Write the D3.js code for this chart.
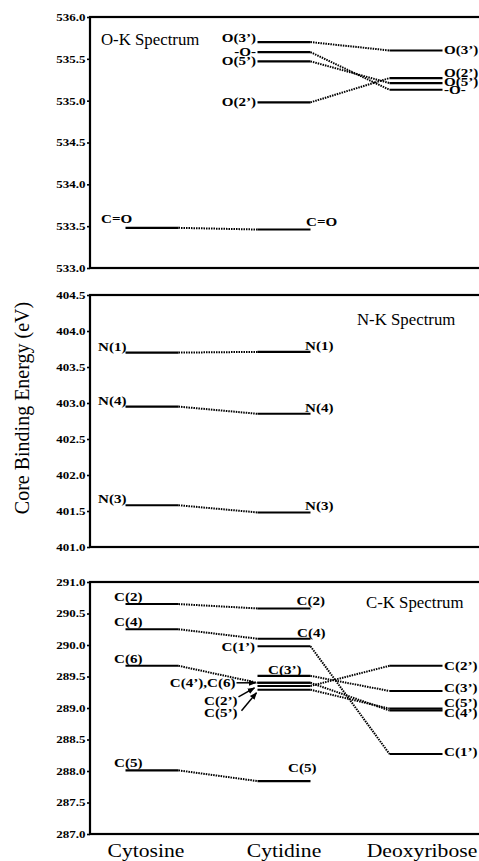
<!DOCTYPE html>
<html>
<head>
<meta charset="utf-8">
<script src="https://cdn.jsdelivr.net/npm/d3@7"></script>
<style>
  html, body { margin: 0; padding: 0; background: #fff; }
  svg { display: block; }
  text { font-family: "Liberation Serif", "Times New Roman", Times, "DejaVu Serif", serif; fill: #000; }
</style>
</head>
<body>
<svg id="chart" width="479" height="861"></svg>
<script>
const categories = ["Cytosine", "Cytidine", "Deoxyribose"];

// O-K spectrum (eV)
const oLevels = ["C=O", "O(3’)", "-O-", "O(5’)", "O(2’)"];
const oCytosine = [533.48, null, null, null, null];
const oCytidine = [533.46, 535.70, 535.58, 535.47, 534.98];
const oDeoxyribose = [null, 535.60, 535.13, 535.21, 535.27];
const oTicks = [533.0, 533.5, 534.0, 534.5, 535.0, 535.5, 536.0];

// N-K spectrum (eV)
const nLevels = ["N(1)", "N(4)", "N(3)"];
const nCytosine = [403.70, 402.95, 401.58];
const nCytidine = [403.71, 402.85, 401.48];
const nDeoxyribose = [null, null, null];
const nTicks = [401.0, 401.5, 402.0, 402.5, 403.0, 403.5, 404.0, 404.5];

// C-K spectrum (eV)
const cLevels = ["C(2)", "C(4)", "C(6)", "C(5)", "C(1’)", "C(2’)", "C(3’)", "C(4’)", "C(5’)"];
const cCytosine = [290.65, 290.25, 289.67, 288.01, null, null, null, null, null];
const cCytidine = [290.58, 290.10, 289.40, 287.84, 289.98, 289.35, 289.51, 289.40, 289.29];
const cDeoxyribose = [null, null, null, null, 288.27, 289.67, 289.27, 288.96, 288.99];
const cTicks = [287.0, 287.5, 288.0, 288.5, 289.0, 289.5, 290.0, 290.5, 291.0];

// crowded cytidine levels get an arrow callout instead of a plain label
const cCalloutText = ["C(4’),C(6)", "C(2’)", "C(5’)"];
const cCalloutTarget = ["C(6)", "C(2’)", "C(5’)"];

const panels = [
  { title: "O-K Spectrum", levels: oLevels, series: [oCytosine, oCytidine, oDeoxyribose], ticks: oTicks },
  { title: "N-K Spectrum", levels: nLevels, series: [nCytosine, nCytidine, nDeoxyribose], ticks: nTicks },
  { title: "C-K Spectrum", levels: cLevels, series: [cCytosine, cCytidine, cDeoxyribose], ticks: cTicks }
];

// ---- layout ----
const W = 479, H = 861;
const frameLeft = 90;
const panelBox = [[17, 268], [295, 547], [582, 834]];
const titlePos = [[101, 45], [357, 325], [366, 608]];
const halfLine = 26.5;
const SX = 1.16;    // the original figure is a little stretched sideways
const SERIF = "Liberation Serif, Times New Roman, DejaVu Serif, serif";

const x = d3.scalePoint().domain(categories).range([152, 416]);
const xLabel = d3.scalePoint().domain(categories).range([146, 422]);

// label placement, ref 0 = left end of level line, 1 = right end
const labelRules = {
  "O-K Spectrum": {
    Cytosine: { ref: 0, dx: -24.5, dy: -5, anchor: "start" },
    Cytidine: { ref: 0, dx: -1.5, dy: 4, anchor: "end" },
    Deoxyribose: { ref: 1, dx: 1.5, dy: 4, anchor: "start" }
  },
  "N-K Spectrum": {
    Cytosine: { ref: 0, dx: -27.5, dy: -2, anchor: "start" },
    Cytidine: { ref: 1, dx: -5.5, dy: -2, anchor: "start" }
  },
  "C-K Spectrum": {
    Cytosine: { ref: 0, dx: -11.5, dy: -3, anchor: "start" },
    Cytidine: { ref: 1, dx: -14, dy: -3, anchor: "start" },
    Deoxyribose: { ref: 1, dx: 1.5, dy: 4.5, anchor: "start" }
  }
};
const labelTweaks = {
  "O-K Spectrum|Cytidine|C=O": { ref: 1, dx: -4.5, dy: -4, anchor: "start" },
  "O-K Spectrum|Cytidine|O(3’)": { dy: 0 },
  "O-K Spectrum|Deoxyribose|O(2’)": { dy: -1.5 },
  "O-K Spectrum|Deoxyribose|O(5’)": { dy: 2.5 },
  "O-K Spectrum|Deoxyribose|-O-": { dy: 4 },
  "C-K Spectrum|Cytidine|C(4)": { dx: -13.5, dy: -2 },
  "C-K Spectrum|Cytidine|C(1’)": { ref: 0, dx: -2.5, dy: 4.5, anchor: "end" },
  "C-K Spectrum|Cytidine|C(3’)": { ref: 0, dx: 10.5, dy: -2 },
  "C-K Spectrum|Cytidine|C(5)": { dx: -22.5, dy: -9 },
  "C-K Spectrum|Cytidine|C(6)": { hide: true },
  "C-K Spectrum|Cytidine|C(2’)": { hide: true },
  "C-K Spectrum|Cytidine|C(4’)": { hide: true },
  "C-K Spectrum|Cytidine|C(5’)": { hide: true },
  "C-K Spectrum|Deoxyribose|C(3’)": { dy: 1.5 },
  "C-K Spectrum|Deoxyribose|C(5’)": { dy: -1.5 },
  "C-K Spectrum|Deoxyribose|C(4’)": { dy: 6 },
  "C-K Spectrum|Deoxyribose|C(1’)": { dy: 2 }
};
// callout offsets relative to the left end of the target line
const calloutGeom = [
  { tx: -22, ty: 4.5, ax0: -21, ay0: 0, ax1: -2, ay1: 0 },
  { tx: -20, ty: 19, ax0: -19, ay0: 11, ax1: -3, ay1: 2 },
  { tx: -20, ty: 27, ax0: -16, ay0: 21, ax1: -1, ay1: 3 }
];

const svg = d3.select("#chart").attr("width", W).attr("height", H);

svg.append("defs").append("marker")
  .attr("id", "arrow")
  .attr("viewBox", "0 0 10 10")
  .attr("refX", 9).attr("refY", 5)
  .attr("markerWidth", 5).attr("markerHeight", 5)
  .attr("orient", "auto")
  .append("path").attr("d", "M0,1 L10,5 L0,9 Z").attr("fill", "#000");

function stretch(sel, tx, ty, sx) {
  sel.attr("transform", `translate(${tx},${ty}) scale(${sx},1)`);
}

panels.forEach((p, pi) => {
  const [top, bottom] = panelBox[pi];
  const y = d3.scaleLinear()
    .domain([d3.min(p.ticks), d3.max(p.ticks)])
    .range([bottom, top]);
  const g = svg.append("g").attr("class", "panel");

  // frame
  g.append("rect")
    .attr("x", frameLeft).attr("y", top)
    .attr("width", 420).attr("height", bottom - top)
    .attr("fill", "none").attr("stroke", "#000").attr("stroke-width", 2.2);

  // y axis
  const axis = d3.axisLeft(y)
    .tickValues(p.ticks)
    .tickFormat(d3.format(".1f"))
    .tickSizeInner(3)
    .tickSizeOuter(0);
  const ag = g.append("g").attr("transform", `translate(${frameLeft},0)`).call(axis);
  ag.attr("font-family", SERIF);
  ag.select(".domain").remove();
  ag.selectAll(".tick line").attr("stroke-width", 1.6);
  ag.selectAll(".tick text")
    .attr("x", null)
    .attr("dy", "0.34em")
    .attr("font-weight", "bold")
    .attr("font-size", 10)
    .attr("transform", "translate(-4.5,0) scale(1.3,1)");

  // title
  g.append("text")
    .text(p.title)
    .attr("font-size", 16)
    .call(stretch, titlePos[pi][0], titlePos[pi][1], 1.05);

  // build level records
  const recs = [];
  categories.forEach((cat, ci) => {
    p.series[ci].forEach((v, li) => {
      if (v == null) return;
      recs.push({ cat, ci, li, label: p.levels[li], v,
        x0: x(cat) - halfLine, x1: x(cat) + halfLine, y: y(v) });
    });
  });

  // dotted connectors between neighbouring columns
  const links = [];
  p.levels.forEach((lab, li) => {
    for (let ci = 0; ci < categories.length - 1; ci++) {
      const a = p.series[ci][li], b = p.series[ci + 1][li];
      if (a == null || b == null) continue;
      links.push({ xa: x(categories[ci]) + halfLine, ya: y(a),
                   xb: x(categories[ci + 1]) - halfLine, yb: y(b) });
    }
  });
  g.selectAll(".link").data(links).join("line")
    .attr("class", "link")
    .attr("x1", d => d.xa).attr("y1", d => d.ya)
    .attr("x2", d => d.xb).attr("y2", d => d.yb)
    .attr("stroke", "#000").attr("stroke-width", 2)
    .attr("stroke-dasharray", "1.5,1");

  // level lines
  g.selectAll(".level").data(recs).join("line")
    .attr("class", "level")
    .attr("x1", d => d.x0).attr("x2", d => d.x1)
    .attr("y1", d => d.y).attr("y2", d => d.y)
    .attr("stroke", "#000").attr("stroke-width", 2.1);

  // level labels
  recs.forEach(d => {
    const base = (labelRules[p.title] || {})[d.cat];
    if (!base) return;
    const r = Object.assign({}, base, labelTweaks[`${p.title}|${d.cat}|${d.label}`] || {});
    if (r.hide) return;
    const lx = (r.ref === 0 ? d.x0 : d.x1) + r.dx;
    g.append("text")
      .text(d.label)
      .attr("font-weight", "bold")
      .attr("font-size", 13)
      .attr("text-anchor", r.anchor)
      .call(stretch, lx, d.y + r.dy, SX);
  });

  // callouts (C-K cytidine)
  if (p.title === "C-K Spectrum") {
    cCalloutText.forEach((txt, k) => {
      const li = p.levels.indexOf(cCalloutTarget[k]);
      const v = cCytidine[li];
      const lx = x("Cytidine") - halfLine, ly = y(v);
      const c = calloutGeom[k];
      g.append("text")
        .text(txt)
        .attr("font-weight", "bold")
        .attr("font-size", 13)
        .attr("text-anchor", "end")
        .call(stretch, lx + c.tx, ly + c.ty, SX);
      g.append("line")
        .attr("x1", lx + c.ax0).attr("y1", ly + c.ay0)
        .attr("x2", lx + c.ax1).attr("y2", ly + c.ay1)
        .attr("stroke", "#000").attr("stroke-width", 1.5)
        .attr("marker-end", "url(#arrow)");
    });
  }
});

// category labels along the bottom
svg.append("g").selectAll("text").data(categories).join("text")
  .text(d => d)
  .attr("font-size", 18.5)
  .attr("text-anchor", "middle")
  .attr("transform", d => `translate(${xLabel(d)},857) scale(1.17,1)`);

// y axis title
svg.append("text")
  .text("Core Binding Energy (eV)")
  .attr("font-size", 20)
  .attr("text-anchor", "middle")
  .attr("transform", "translate(29,408) rotate(-90)");
</script>
</body>
</html>
